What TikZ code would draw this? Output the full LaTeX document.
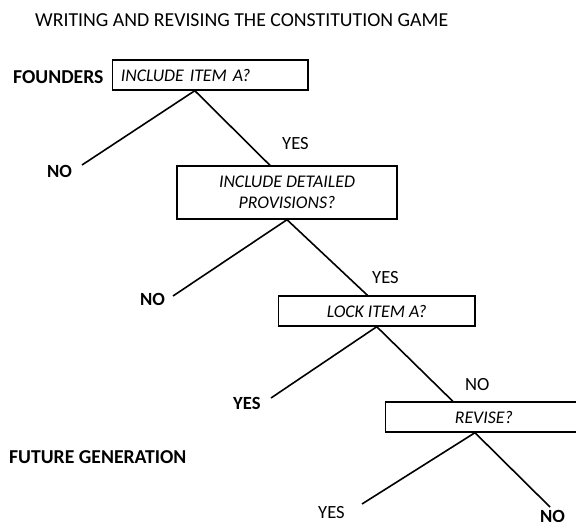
\documentclass[tikz,border=0pt]{standalone}
\usepackage{fontspec}
\setmainfont{Carlito}
\usetikzlibrary{calc}
\begin{document}
\begin{tikzpicture}[x=1pt,y=-1pt,
  lbl/.style={inner sep=0pt, anchor=base west, font=\fontsize{18.6}{21}\selectfont},
  blbl/.style={inner sep=0pt, anchor=base west, font=\fontsize{18.6}{21}\selectfont\bfseries},
  plbl/.style={inner sep=0pt, anchor=base west, font=\fontsize{19.7}{22}\selectfont\bfseries},
  qbox/.style={draw, line width=1.4pt, minimum height=30pt, inner sep=0pt, font=\fontsize{17.8}{21.5}\selectfont\itshape, align=center},
  edge/.style={line width=1.6pt}]
\useasboundingbox (0,0) rectangle (576,522);
% title
\node[inner sep=0pt, anchor=base west, font=\fontsize{19.8}{24}\selectfont] (title) at (35,27) {WRITING AND REVISING THE CONSTITUTION GAME};
% players
\node[plbl] (founders) at (13,83) {FOUNDERS};
\node[plbl] (future) at (9,463) {FUTURE GENERATION};
% decision boxes
\node[qbox, minimum width=195.3pt, text width=179pt, align=left] (b1) at (210.35,75) {INCLUDE ITEM A?};
\node[qbox, minimum width=220pt, minimum height=53pt] (b2) at (287,192.5) {INCLUDE DETAILED\\PROVISIONS?};
\node[qbox, minimum width=196.5pt] (b3) at (376.75,311) {LOCK ITEM A?};
\node[qbox, minimum width=196.3pt] (b4) at (483.85,417) {REVISE?};
% free ends
\coordinate (e1) at (82,165);
\coordinate (e2) at (173,296);
\coordinate (e3) at (271,398);
\coordinate (e4) at (362,504);
\coordinate (e5) at (550,507);
% connectors
\draw[edge] ($(b1.south west)!0.421!(b1.south east)$) coordinate (v1) -- (e1);
\draw[edge] (v1) -- ($(b2.north west)!0.423!(b2.north east)$);
\draw[edge] (b2.south) -- (e2);
\draw[edge] (b2.south) -- ($(b3.north west)!0.453!(b3.north east)$);
\draw[edge] (b3.south) -- (e3);
\draw[edge] (b3.south) -- ($(b4.north west)!0.343!(b4.north east)$);
\draw[edge] ($(b4.south west)!0.455!(b4.south east)$) coordinate (v4) -- (e4);
\draw[edge] (v4) -- (e5);
% branch labels
\node[blbl] (no1) at (47,177) {NO};
\node[lbl] (yes1) at (282,149) {YES};
\node[blbl] (no2) at (140,305) {NO};
\node[lbl] (yes2) at (372,283) {YES};
\node[blbl] (yes3) at (233,409) {YES};
\node[lbl] (no3) at (465,390) {NO};
\node[lbl] (yes4) at (318,518.5) {YES};
\node[blbl] (no4) at (540,522) {NO};
\end{tikzpicture}
\end{document}
